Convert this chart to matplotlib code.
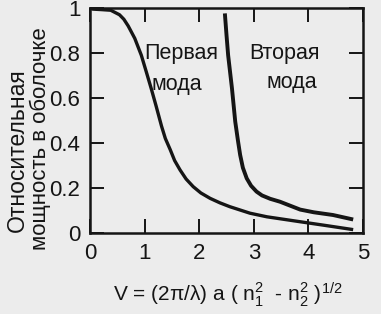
import matplotlib
matplotlib.use("Agg")
import matplotlib.pyplot as plt

# Data
v1 = [0.0, 0.05, 0.2, 0.38, 0.54, 0.62, 0.70, 0.82, 0.94, 1.03, 1.12, 1.21, 1.31, 1.38,
      1.47, 1.55, 1.65, 1.76, 1.89, 2.03, 2.2, 2.38, 2.56, 2.93, 3.24, 3.85, 4.3, 4.82]
p1 = [1.0, 0.995, 0.993, 0.99, 0.97, 0.95, 0.92, 0.865, 0.79, 0.717, 0.643, 0.565, 0.475, 0.42,
      0.37, 0.322, 0.28, 0.24, 0.206, 0.178, 0.154, 0.134, 0.117, 0.088, 0.072, 0.05, 0.034, 0.015]
v2 = [2.47, 2.50, 2.53, 2.60, 2.66, 2.71, 2.75, 2.80, 2.87, 2.95, 3.05, 3.15, 3.30, 3.48,
      3.85, 4.1, 4.45, 4.82]
p2 = [0.976, 0.88, 0.79, 0.643, 0.495, 0.41, 0.347, 0.29, 0.243, 0.21, 0.184, 0.167, 0.152,
      0.139, 0.104, 0.092, 0.08, 0.06]
xticks = [0, 1, 2, 3, 4, 5]
yticks = [0, 0.2, 0.4, 0.6, 0.8, 1]
ytick_labels = ["0", "0.2", "0.4", "0.6", "0.8", "1"]

plt.rcParams['font.family'] = ['Liberation Sans', 'DejaVu Sans']
plt.rcParams['mathtext.fontset'] = 'custom'
plt.rcParams['mathtext.rm'] = 'Liberation Sans'
plt.rcParams['mathtext.it'] = 'Liberation Sans'
plt.rcParams['mathtext.bf'] = 'Liberation Sans:bold'

bg = '#ececec'
ink = '#151515'
fig = plt.figure(figsize=(3.81, 3.14), dpi=100, facecolor=bg)
ax = fig.add_axes([90/381, 1-233/314, (363-90)/381, (233-8)/314])
ax.set_facecolor(bg)

ax.plot(v1, p1, color=ink, lw=2.4, solid_capstyle='butt', solid_joinstyle='round')
ax.plot(v2, p2, color=ink, lw=2.8, solid_capstyle='butt', solid_joinstyle='round')

ax.set_xlim(0, 5)
ax.set_ylim(0, 1)
ax.set_xticks(xticks)
ax.set_yticks(yticks)
ax.set_yticklabels(ytick_labels)
ax.tick_params(direction='in', length=10, width=1.4, colors=ink, labelsize=16,
               top=True, right=True, pad=7)
for s in ax.spines.values():
    s.set_linewidth(1.8)
    s.set_color(ink)

ax.text(1.68, 0.80, "Первая", fontsize=15.5, color=ink, ha='center', va='center')
ax.text(1.59, 0.66, "мода", fontsize=15.5, color=ink, ha='center', va='center')
ax.text(3.57, 0.80, "Вторая", fontsize=15.5, color=ink, ha='center', va='center')
ax.text(3.69, 0.67, "мода", fontsize=15.5, color=ink, ha='center', va='center')

fig.text(17/381, 1-150/314, "Относительная", rotation=90, fontsize=16.5, color=ink,
         ha='center', va='center')
fig.text(40/381, 1-139/314, "мощность в оболочке", rotation=90, fontsize=16, color=ink,
         ha='center', va='center')

fig.text(228/381, 1-295/314,
         r"V = (2$\pi$/$\lambda$) a ( n$_1^2$  - n$_2^2$ )$^{1/2}$",
         fontsize=15, color=ink, ha='center', va='center')

fig.savefig("out.png", dpi=100, facecolor=bg)
